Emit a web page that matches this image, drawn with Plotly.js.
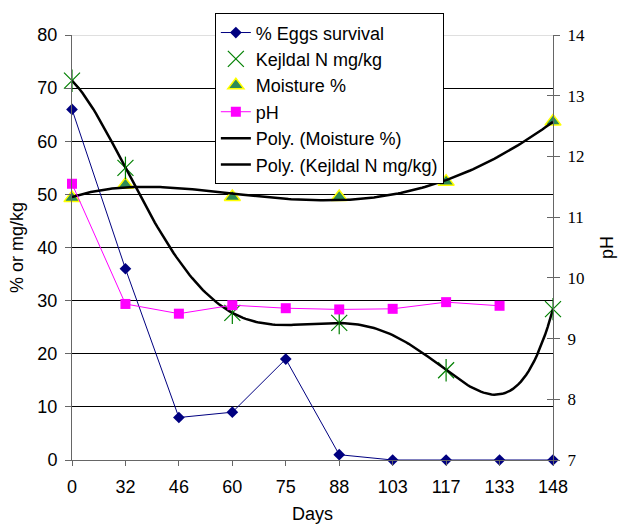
<!DOCTYPE html>
<html><head><meta charset="utf-8">
<script src="https://cdn.plot.ly/plotly-3.0.1.min.js"></script>
<style>html,body{margin:0;padding:0;background:#fff}#chart{width:618px;height:524px}</style>
</head><body><div id="chart"></div>
<script>
const days = ['0','32','46','60','75','88','103','117','133','148'];
const eggsSurvival = [66, 36, 8, 9, 19, 1, 0, 0, 0, 0];
const kejldalN = [71.4, 55.0, null, 27.7, null, 25.8, null, 16.9, null, 28.4];
const moisture = [49.3, 51.8, null, 49.5, null, 49.5, null, 52.4, null, 63.7];
const pH = [11.55, 9.57, 9.41, 9.55, 9.50, 9.48, 9.49, 9.60, 9.54, null];
const leftTicks = [0, 10, 20, 30, 40, 50, 60, 70, 80];
const gridTicks = [10, 20, 30, 40, 50, 60, 70];
const rightTicks = [7, 8, 9, 10, 11, 12, 13, 14];
const kejldalOrder = 5;
const moistureOrder = 4;

const idx = days.map((d, i) => i);

// least-squares polynomial trendline (as the spreadsheet's "Poly." trendline)
function polyfit(xs, ys, order) {
  const n = order + 1;
  const A = [], b = [];
  for (let i = 0; i < n; i++) { A.push(new Array(n).fill(0)); b.push(0); }
  xs.forEach((x, k) => {
    for (let i = 0; i < n; i++) {
      b[i] += ys[k] * Math.pow(x, i);
      for (let j = 0; j < n; j++) A[i][j] += Math.pow(x, i + j);
    }
  });
  for (let c = 0; c < n; c++) {
    let p = c;
    for (let r = c + 1; r < n; r++) if (Math.abs(A[r][c]) > Math.abs(A[p][c])) p = r;
    [A[c], A[p]] = [A[p], A[c]]; [b[c], b[p]] = [b[p], b[c]];
    for (let r = c + 1; r < n; r++) {
      const f = A[r][c] / A[c][c];
      for (let j = c; j < n; j++) A[r][j] -= f * A[c][j];
      b[r] -= f * b[c];
    }
  }
  const coef = new Array(n).fill(0);
  for (let r = n - 1; r >= 0; r--) {
    let s = b[r];
    for (let j = r + 1; j < n; j++) s -= A[r][j] * coef[j];
    coef[r] = s / A[r][r];
  }
  return coef;
}
function trend(vals, order) {
  const xs = [], ys = [];
  vals.forEach((v, i) => { if (v !== null) { xs.push(i + 1); ys.push(v); } });
  const c = polyfit(xs, ys, order);
  const tx = [], ty = [];
  for (let t = 0; t <= 9.0001; t += 0.05) {
    const x = t + 1;
    tx.push(t); ty.push(c.reduce((s, a, i) => s + a * Math.pow(x, i), 0));
  }
  return {x: tx, y: ty};
}
const tM = trend(moisture, moistureOrder);
const tK = trend(kejldalN, kejldalOrder);

const sans = 'Liberation Sans, Arial, sans-serif';
const serif = 'Liberation Serif, Times New Roman, serif';

const traces = [
  {x: idx, y: eggsSurvival, name: '% Eggs survival', mode: 'lines+markers',
   line: {color: '#000080', width: 1}, marker: {symbol: 'diamond', size: 9, color: '#000080'}, cliponaxis: false},
  {x: idx, y: kejldalN, name: 'Kejldal N mg/kg', mode: 'markers',
   marker: {symbol: 'x-thin-open', size: 16, color: '#008000', line: {color: '#008000', width: 1.2}}, cliponaxis: false},
  {x: idx, y: moisture, name: 'Moisture %', mode: 'markers',
   marker: {symbol: 'triangle-up', size: 14, color: '#2E8B57', line: {color: '#FFFF00', width: 1.5}}, cliponaxis: false},
  {x: idx, y: pH, name: 'pH', mode: 'lines+markers', yaxis: 'y2',
   line: {color: '#FF00FF', width: 1}, marker: {symbol: 'square', size: 10, color: '#FF00FF'}, cliponaxis: false},
  {x: tM.x, y: tM.y, name: 'Poly. (Moisture %)', mode: 'lines', line: {color: '#000', width: 2.5}, cliponaxis: false},
  {x: tK.x, y: tK.y, name: 'Poly. (Kejldal N mg/kg)', mode: 'lines', line: {color: '#000', width: 2.5}, cliponaxis: false},
  {x: idx, y: kejldalN, name: 'Kejldal N mg/kg', mode: 'markers', showlegend: false, hoverinfo: 'skip',
   marker: {symbol: 'line-ns-open', size: 16, color: '#008000', line: {color: '#008000', width: 1.2}}, cliponaxis: false},
  {x: [0], y: [7], yaxis: 'y3', mode: 'markers', marker: {opacity: 0}, showlegend: false, hoverinfo: 'skip'},
  {x: [0], y: [0], yaxis: 'y4', mode: 'markers', marker: {opacity: 0}, showlegend: false, hoverinfo: 'skip'}
];

const layout = {
  width: 618, height: 524,
  margin: {l: 72, r: 65, t: 35, b: 64},
  paper_bgcolor: '#fff', plot_bgcolor: '#fff',
  showlegend: true,
  font: {family: sans, size: 18, color: '#000'},
  xaxis: {
    range: [0, 9], tickvals: idx, ticktext: days, ticks: 'outside', ticklen: 5,
    tickcolor: '#666', showline: true, linecolor: '#666', linewidth: 1,
    showgrid: false, zeroline: false, ticklabelstandoff: 5,
    tickfont: {family: sans, size: 18},
    title: {text: 'Days', font: {family: sans, size: 18}, standoff: 17}
  },
  yaxis: {
    range: [0, 80], tickvals: leftTicks, ticks: 'outside', ticklen: 6, tickcolor: '#666',
    showline: true, linecolor: '#666', showgrid: false, zeroline: false,
    ticklabelstandoff: 4,
    tickfont: {family: sans, size: 18},
    title: {text: '% or mg/kg', font: {family: sans, size: 18}, standoff: 9}
  },
  yaxis4: {
    range: [0, 80], tickvals: gridTicks, overlaying: 'y', side: 'left', ticks: '',
    showline: false, showgrid: true, gridcolor: '#000', gridwidth: 1, zeroline: false, showticklabels: false
  },
  yaxis2: {
    range: [7, 14], tickvals: rightTicks, overlaying: 'y', side: 'right', ticks: 'outside', ticklen: 6,
    tickcolor: '#666', showline: true, linecolor: '#666', showgrid: false, zeroline: false,
    ticklabelstandoff: 4,
    tickfont: {family: serif, size: 17},
    title: {text: 'pH', font: {family: sans, size: 18}, standoff: 16}
  },
  yaxis3: {
    range: [7, 14], tickvals: rightTicks, overlaying: 'y', side: 'right', ticks: 'inside', ticklen: 6,
    tickcolor: '#666', showline: false, showgrid: false, zeroline: false, showticklabels: false
  },
  shapes: [
    {type: 'line', xref: 'paper', x0: 0, x1: 1, yref: 'y', y0: 80, y1: 80,
     line: {color: '#c0c0c0', width: 1}, layer: 'below'}
  ],
  legend: {
    x: 0.297, y: 1.051, xanchor: 'left', yanchor: 'top',
    bgcolor: '#fff', bordercolor: '#000', borderwidth: 1,
    font: {family: sans, size: 18}
  }
};
Plotly.newPlot('chart', traces, layout, {displayModeBar: false, staticPlot: true});
</script></body></html>
